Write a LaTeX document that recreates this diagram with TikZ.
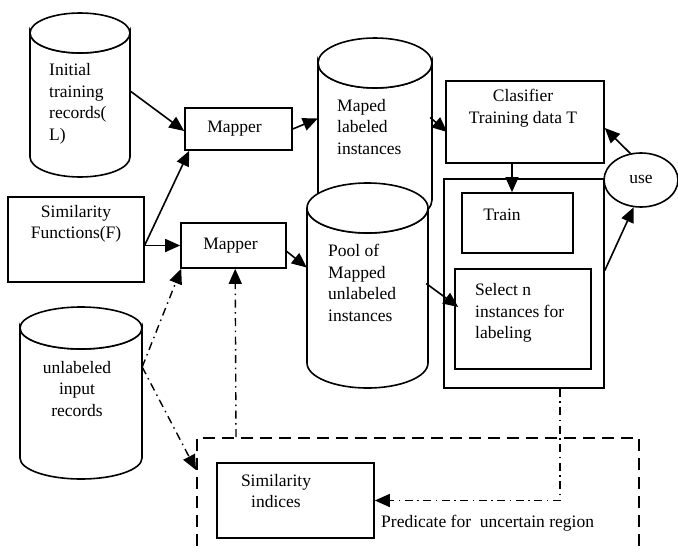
\documentclass[tikz,border=0pt]{standalone}
\usepackage{fontspec}
\setmainfont{Liberation Serif}
\usetikzlibrary{arrows.meta,calc,shapes.geometric}
\newcommand\mycyl[6]{% name, xl, xr, ytop, ybot, ry
  \pgfmathsetmacro\mycylcx{(#2+#3)/2}
  \pgfmathsetmacro\mycylrx{(#3-#2)/2}
  \pgfmathsetmacro\mycylcy{(#4+#5)/2}
  \pgfmathsetmacro\mycylw{#3-#2}
  \pgfmathsetmacro\mycylh{#5-#4}
  \filldraw[fill=white,line width=1.6pt] (#2,#4) -- (#2,#5) arc[start angle=180,end angle=0,x radius=\mycylrx,y radius=#6] -- (#3,#4) arc[start angle=0,end angle=180,x radius=\mycylrx,y radius=#6] -- cycle;
  \filldraw[fill=white,line width=1.6pt] (\mycylcx,#4) ellipse[x radius=\mycylrx,y radius=#6];
  \node[inner sep=0pt,minimum width=\mycylw pt,minimum height=\mycylh pt] (#1) at (\mycylcx,\mycylcy) {};
}
\begin{document}
\begin{tikzpicture}[x=1pt,y=-1pt,
  font=\fontsize{17.5}{21.5}\selectfont,
  box/.style={draw,line width=1.6pt,inner sep=0pt},
  arr/.style={line width=1.6pt,-{Triangle[length=15pt,width=13pt]}},
  dd/.style={line width=1.4pt,dash pattern=on 8pt off 4.5pt on 1.5pt off 4.5pt,-{Triangle[length=15pt,width=13pt]}},
  txt/.style={inner sep=0pt,align=left}]
\clip (0,0) rectangle (678,552);
\fill[white] (0,0) rectangle (678,552);

% dashed region
\node[draw,line width=1.6pt,dash pattern=on 12pt off 7pt,inner sep=0pt,minimum width=442pt,minimum height=160pt,anchor=north west] (reg) at (196,437) {};

% cylinders
\mycyl{c1}{30}{130}{33}{157}{20}
\node[txt,anchor=west] at (49,104) {Initial\\training\\records(\\L)};
\mycyl{c4}{20}{142}{328}{458}{21}
\node[txt,align=center] at (77,389) {unlabeled\\input\\records};
\mycyl{c2}{318}{432}{63}{200}{25}
\node[txt,anchor=west] at (337,127) {Maped\\labeled\\instances};
\mycyl{c3}{307}{428}{208}{363}{25}
\node[txt,anchor=west] at (328,283) {Pool of\\Mapped\\unlabeled\\instances};

% boxes
\node[box,minimum width=107pt,minimum height=42pt] (m1) at (238.5,129) {};
\node at (234.5,129) {Mapper};
\node[box,minimum width=105pt,minimum height=45pt] (m2) at (233.5,245.5) {};
\node at (230.5,245.5) {Mapper};
\node[box,minimum width=136pt,minimum height=85pt] (sf) at (76,239.5) {};
\node[txt,align=center,anchor=north] at (76,205) {Similarity\\Functions(F)};
\node[box,minimum width=158pt,minimum height=82pt] (cl) at (525,122) {};
\node[txt,align=center,anchor=north] at (523,89) {Clasifier\\Training data T};
\node[box,minimum width=160pt,minimum height=209pt] (outer) at (524,283.5) {};
\node[box,minimum width=111pt,minimum height=60pt] (train) at (517.5,223) {};
\node at (502,215) {Train};
\node[box,minimum width=136pt,minimum height=100pt] (sel) at (523,319) {};
\node[txt,anchor=west] at (475,313) {Select n\\instances for\\labeling};
\node[draw,ellipse,line width=1.6pt,fill=white,minimum width=74pt,minimum height=54pt,inner sep=0pt] (use) at (641,180) {};
\node at (641,179) {use};
\node[box,minimum width=157pt,minimum height=75pt] (sim) at (295.5,500.5) {};
\node[txt,align=center,anchor=north] at (276,474) {Similarity\\indices};
\node[txt,anchor=west] (pred) at (381,523) {Predicate for\ \ uncertain region};

% solid arrows
\draw[arr] ($(c1.east)+(0,-4)$) -- ($(m1.west)+(0,2)$);
\draw[arr] ($(sf.east)+(0,5.5)$) -- ($(m1.south west)+(5,0)$);
\draw[arr] (sf.east |- m2.west) -- (m2.west);
\draw[arr] (m1.east) -- ($(c2.west)+(0,-13)$);
\draw[arr] ($(c2.east)+(-2,-14)$) -- ($(cl.west)+(2,10)$);
\draw[arr] ($(m2.east)+(0,6)$) -- ($(c3.west)+(0,-18)$);
\draw[arr] ($(c3.east)+(-2,-2)$) -- ($(sel.west)+(4,-12)$);
\draw[arr] ($(cl.south)+(-13,0)$) -- ($(train.north)+(-5.5,0)$);
\draw[arr] ($(outer.east)+(0,-13)$) -- (use.255);
\draw[arr] (use.112) -- ($(cl.east)+(0,6)$);

% dash-dot arrows
\draw[dd] ($(c4.east)+(0,-26)$) -- ($(m2.south west)+(1,0)$);
\draw[dd] ($(c4.east)+(0,-26)$) -- ($(reg.north west)+(0,33)$);
\draw[dd] ($(reg.north west)+(40,0)$) -- ($(m2.south west)+(55,0)$);
\draw[dd] ($(outer.south)+(36,0)$) |- (sim.east);
\end{tikzpicture}
\end{document}
